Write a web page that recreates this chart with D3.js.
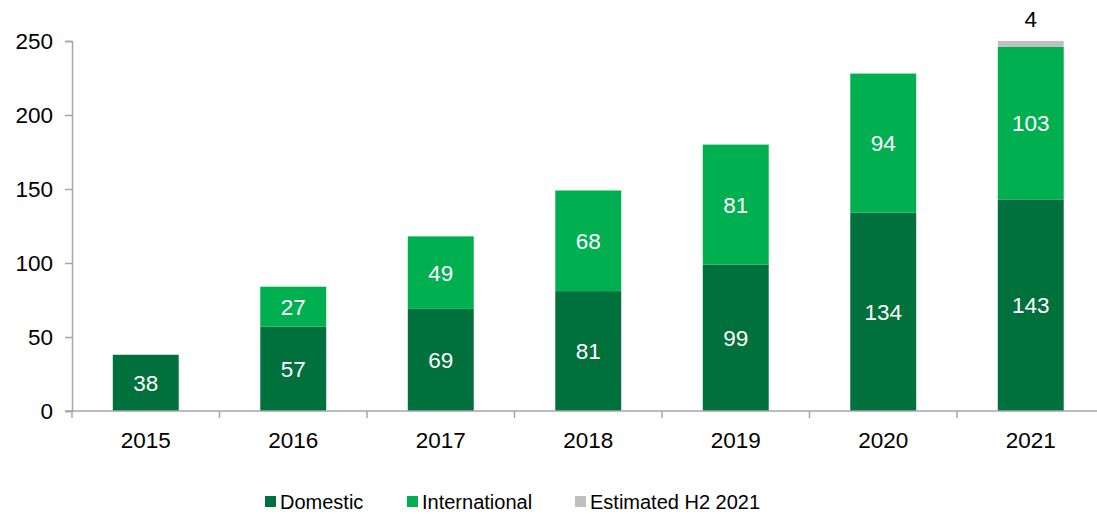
<!DOCTYPE html>
<html>
<head>
<meta charset="utf-8">
<script src="https://cdn.jsdelivr.net/npm/d3@7"></script>
<style>
  body { margin: 0; background: #fff; }
  text { font-family: "Liberation Sans", Arial, sans-serif; }
</style>
</head>
<body>
<div id="chart"></div>
<script>
var years = ["2015", "2016", "2017", "2018", "2019", "2020", "2021"];
var domestic = [38, 57, 69, 81, 99, 134, 143];
var international = [0, 27, 49, 68, 81, 94, 103];
var estimated = [0, 0, 0, 0, 0, 0, 4];
var seriesNames = ["Domestic", "International", "Estimated H2 2021"];
var colors = ["#00703c", "#00b050", "#bfbfbf"];
var yTicks = [0, 50, 100, 150, 200, 250];

var W = 1097, H = 514;
var m = { left: 72, top: 41, bottom: 103 };
var fs = 22.5;
var svg = d3.select("#chart").append("svg").attr("width", W).attr("height", H);

var x = d3.scaleBand().domain(years).range([m.left, m.left + 147.5 * 7])
  .paddingInner(0.553).paddingOuter(0.2765);
var y = d3.scaleLinear().domain([0, 250]).range([H - m.bottom, m.top]);

var rows = years.map(function(d, i) {
  return { year: d, Domestic: domestic[i], International: international[i], "Estimated H2 2021": estimated[i] };
});
var stacked = d3.stack().keys(seriesNames)(rows);

var axisColor = "#a6a6a6";

// y axis
var yAxis = svg.append("g").attr("transform", "translate(" + m.left + ",0)")
  .call(d3.axisLeft(y).tickValues(yTicks).tickSize(7).tickPadding(12));
yAxis.select(".domain").attr("stroke", axisColor).attr("stroke-width", 1.5);
yAxis.selectAll(".tick line").attr("stroke", axisColor).attr("stroke-width", 1.5);
yAxis.selectAll("text").attr("font-size", fs).attr("fill", "#000")
  .attr("font-family", "Liberation Sans, Arial, sans-serif");

// bars
stacked.forEach(function(s, k) {
  svg.append("g").selectAll("rect").data(s).enter().append("rect")
    .attr("x", function(d) { return x(d.data.year); })
    .attr("width", x.bandwidth())
    .attr("y", function(d) { return y(d[1]); })
    .attr("height", function(d) { return y(d[0]) - y(d[1]); })
    .attr("fill", colors[k]);
});

// x axis
var step = x.step();
var xAxisG = svg.append("g");
xAxisG.append("line").attr("x1", m.left - 7).attr("x2", m.left + step * 7)
  .attr("y1", y(0)).attr("y2", y(0)).attr("stroke", axisColor).attr("stroke-width", 1.5);
xAxisG.selectAll("line.tk").data(d3.range(8)).enter().append("line")
  .attr("class", "tk")
  .attr("x1", function(i) { return m.left + step * i; })
  .attr("x2", function(i) { return m.left + step * i; })
  .attr("y1", y(0)).attr("y2", y(0) + 7)
  .attr("stroke", axisColor).attr("stroke-width", 1.5);
xAxisG.selectAll("text").data(years).enter().append("text")
  .attr("x", function(d) { return x(d) + x.bandwidth() / 2; })
  .attr("y", y(0) + 37)
  .attr("text-anchor", "middle").attr("font-size", fs).attr("fill", "#000")
  .text(function(d) { return d; });

// labels inside segments
stacked.forEach(function(s, k) {
  if (k === 2) return;
  svg.append("g").selectAll("text").data(s.filter(function(d) { return d[1] - d[0] > 0; }))
    .enter().append("text")
    .attr("x", function(d) { return x(d.data.year) + x.bandwidth() / 2; })
    .attr("y", function(d) { return (y(d[0]) + y(d[1])) / 2 + 8; })
    .attr("text-anchor", "middle").attr("font-size", fs).attr("fill", "#fff")
    .text(function(d) { return d[1] - d[0]; });
});
// estimated label above
svg.append("g").selectAll("text").data(stacked[2].filter(function(d) { return d[1] - d[0] > 0; }))
  .enter().append("text")
  .attr("x", function(d) { return x(d.data.year) + x.bandwidth() / 2; })
  .attr("y", function(d) { return y(d[1]) - 14; })
  .attr("text-anchor", "middle").attr("font-size", fs).attr("fill", "#000")
  .text(function(d) { return d[1] - d[0]; });

// legend
var legX = [265, 407, 575];
var leg = svg.append("g");
seriesNames.forEach(function(n, i) {
  leg.append("rect").attr("x", legX[i]).attr("y", 496).attr("width", 11).attr("height", 11)
    .attr("fill", colors[i]);
  leg.append("text").attr("x", legX[i] + 15).attr("y", 509)
    .attr("font-size", 20).attr("fill", "#000").text(n);
});
</script>
</body>
</html>
